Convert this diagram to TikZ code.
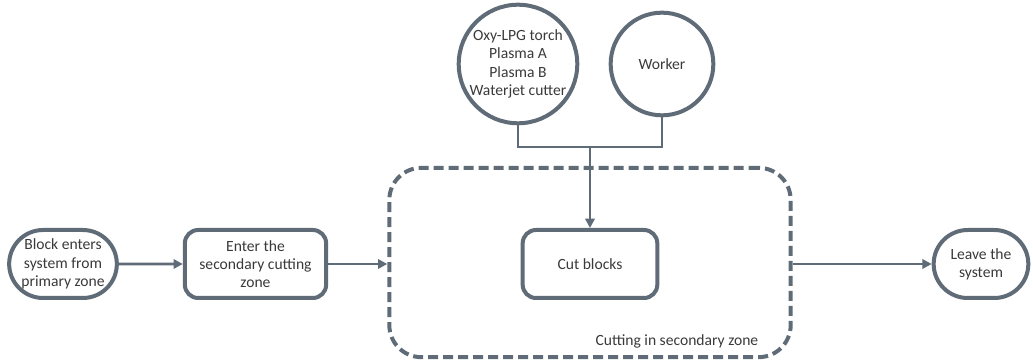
\documentclass[tikz,border=0pt]{standalone}
\usepackage{fontspec}
\setmainfont{Carlito}
\usepackage{tikz}
\usetikzlibrary{positioning}
\usetikzlibrary{shapes.misc}
\usetikzlibrary{arrows.meta}

\definecolor{linegray}{HTML}{5F6B77}
\definecolor{textgray}{HTML}{3A3A3A}

\tikzset{
	box/.style={draw=linegray, line width=3pt, rounded corners=10pt, fill=white,
		minimum width=102pt, minimum height=51pt, align=center, text=textgray, font=\fontsize{11.7}{13.7}\selectfont},
	term/.style={draw=linegray, line width=3pt, rounded rectangle, fill=white, inner xsep=1pt,
		minimum height=51pt, align=center, text=textgray, font=\fontsize{11.7}{13.7}\selectfont},
	res/.style={draw=linegray, line width=3pt, circle, minimum size=77pt, inner sep=0pt,
		align=center, text=textgray, font=\fontsize{11.7}{13.7}\selectfont},
	zonebox/.style={draw=linegray, line width=3pt, dash pattern=on 7.5pt off 3.75pt, rounded corners=24pt,
		minimum width=301pt, minimum height=142pt},
	flow/.style={draw=linegray, line width=2.2pt, -{Triangle[length=7pt,width=7pt]}},
	link/.style={draw=linegray, line width=2.2pt}
}

\begin{document}
\begin{tikzpicture}[x=0.75pt, y=-0.75pt]
	\useasboundingbox (0,0) rectangle (1033,363);

	\node[zonebox] (zone) at (590,262.5) {};
	\node[text=textgray, font=\fontsize{11.7}{13.7}\selectfont, anchor=base east] (zlabel) at (763,346) {Cutting in secondary zone};

	\node[term, minimum width=80pt] (enters) at (63,264) {Block enters\\system from\\primary zone};
	\node[box, minimum width=106pt] (enter) at (255.5,264) {Enter the\\secondary cutting\\zone};
	\node[box, minimum width=101pt] (cut) at (590,264) {Cut blocks};
	\node[term, minimum width=73pt] (leave) at (981,264) {Leave the\\system};

	\node[res] (tool) at (518,64) {Oxy-LPG torch\\Plasma A\\Plasma B\\Waterjet cutter};
	\node[res] (worker) at (662,64) {Worker};
	\coordinate (join) at (590,147);

	\path[link] (tool.south) |- (join) -| (worker.south);
	\path[flow] (join) -- (cut.north);

	\path[flow] (enters) -- (enter);
	\path[flow] (enter) -- (enter -| zone.west);
	\path[flow] (zone.east |- leave) -- (leave);
\end{tikzpicture}
\end{document}
